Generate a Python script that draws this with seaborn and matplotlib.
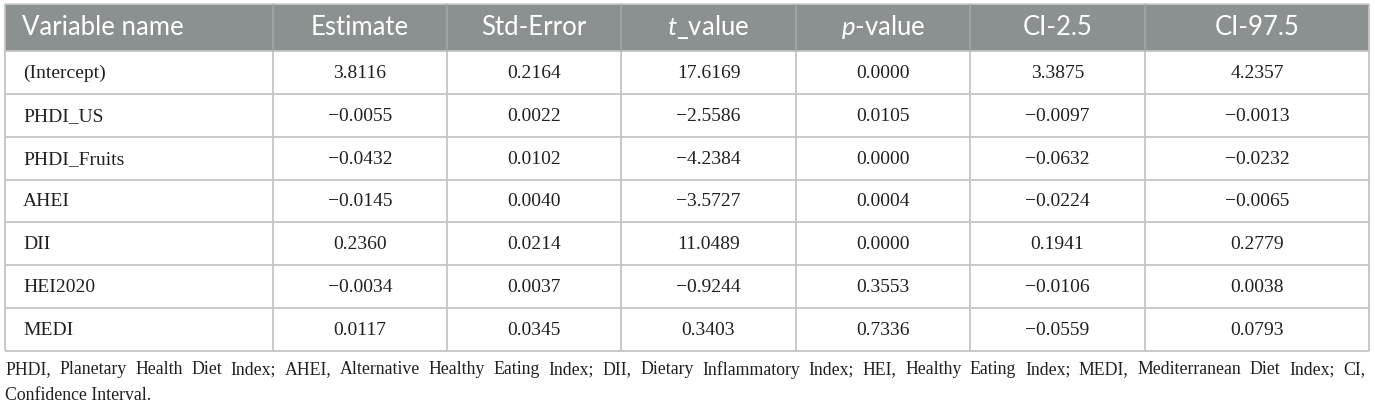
import matplotlib
matplotlib.use("Agg")
import matplotlib.pyplot as plt
import seaborn as sns

# table content
columns = ["Variable name", "Estimate", "Std-Error", "$t$_value", "$p$-value", "CI-2.5", "CI-97.5"]
variables = ["(Intercept)", "PHDI_US", "PHDI_Fruits", "AHEI", "DII", "HEI2020", "MEDI"]
estimate = [3.8116, -0.0055, -0.0432, -0.0145, 0.2360, -0.0034, 0.0117]
std_error = [0.2164, 0.0022, 0.0102, 0.0040, 0.0214, 0.0037, 0.0345]
t_value = [17.6169, -2.5586, -4.2384, -3.5727, 11.0489, -0.9244, 0.3403]
p_value = [0.0000, 0.0105, 0.0000, 0.0004, 0.0000, 0.3553, 0.7336]
ci_low = [3.3875, -0.0097, -0.0632, -0.0224, 0.1941, -0.0106, -0.0559]
ci_high = [4.2357, -0.0013, -0.0232, -0.0065, 0.2779, 0.0038, 0.0793]
footnote = ("PHDI, Planetary Health Diet Index; AHEI, Alternative Healthy Eating Index; "
            "DII, Dietary Inflammatory Index; HEI, Healthy Eating Index; MEDI, "
            "Mediterranean Diet Index; CI,")
footnote_2 = "Confidence Interval."

sns.set_theme(style="white")
plt.rcParams["mathtext.fontset"] = "custom"
plt.rcParams["mathtext.it"] = "Lato:italic"
plt.rcParams["mathtext.rm"] = "Lato"

W, H = 1375, 405
fig = plt.figure(figsize=(W / 100, H / 100), dpi=100)
ax = fig.add_axes([0, 0, 1, 1])
ax.set_xlim(0, W)
ax.set_ylim(H, 0)
ax.axis("off")

col_edges = [5, 273, 447, 621, 796, 970, 1145, 1369]
top, head_bot, bottom = 4, 51, 351
n_rows = len(variables)
row_h = (bottom - head_bot) / n_rows
row_edges = [head_bot + i * row_h for i in range(n_rows + 1)]

header_bg = "#8b9091"
line_c = "#c4c4c4"
text_c = "#231f20"

# header band
ax.fill_between([col_edges[0], col_edges[-1]], top, head_bot, color=header_bg, lw=0)
ax.hlines(top, col_edges[0], col_edges[-1], color="#d0d0d0", lw=1.2)

# grid
ax.hlines(row_edges, col_edges[0], col_edges[-1], color=line_c, lw=1.3)
ax.vlines(col_edges[1:-1], top, head_bot, color="#a6aaab", lw=1.1)
ax.vlines(col_edges[1:-1], head_bot, bottom, color=line_c, lw=1.3)
ax.vlines([col_edges[0], col_edges[-1]], top, bottom, color=line_c, lw=1.3)

def fmt(v):
    return f"{v:.4f}".replace("-", "\u2212")

centers = [(a + b) / 2 for a, b in zip(col_edges[:-1], col_edges[1:])]
head_y = 35
for i, name in enumerate(columns):
    x = 22 if i == 0 else centers[i]
    ax.text(x, head_y, name, ha="left" if i == 0 else "center", va="baseline",
            color="white", fontsize=18.5, family="Lato")

table_cols = [estimate, std_error, t_value, p_value, ci_low, ci_high]
for r in range(n_rows):
    y = (row_edges[r] + row_edges[r + 1]) / 2 + 1
    ax.text(23, y, variables[r], ha="left", va="center", color=text_c,
            fontsize=14, family="Liberation Serif")
    for c, vals in enumerate(table_cols):
        ax.text(centers[c + 1], y, fmt(vals[r]), ha="center", va="center",
                color=text_c, fontsize=14, family="Liberation Serif")

# justified footnote line
fs_note = 12.8
renderer = fig.canvas.get_renderer()
words = footnote.split(" ")
objs = [ax.text(0, 370, w, ha="left", va="center", color=text_c,
                fontsize=fs_note, family="Liberation Serif") for w in words]
widths = [o.get_window_extent(renderer).width for o in objs]
x0, x1 = 5, 1365
gap = (x1 - x0 - sum(widths)) / (len(words) - 1)
x = x0
for o, w in zip(objs, widths):
    o.set_x(x)
    x += w + gap
ax.text(x0, 395, footnote_2, ha="left", va="center", color=text_c,
        fontsize=fs_note, family="Liberation Serif")

fig.savefig("out.png", dpi=100)
